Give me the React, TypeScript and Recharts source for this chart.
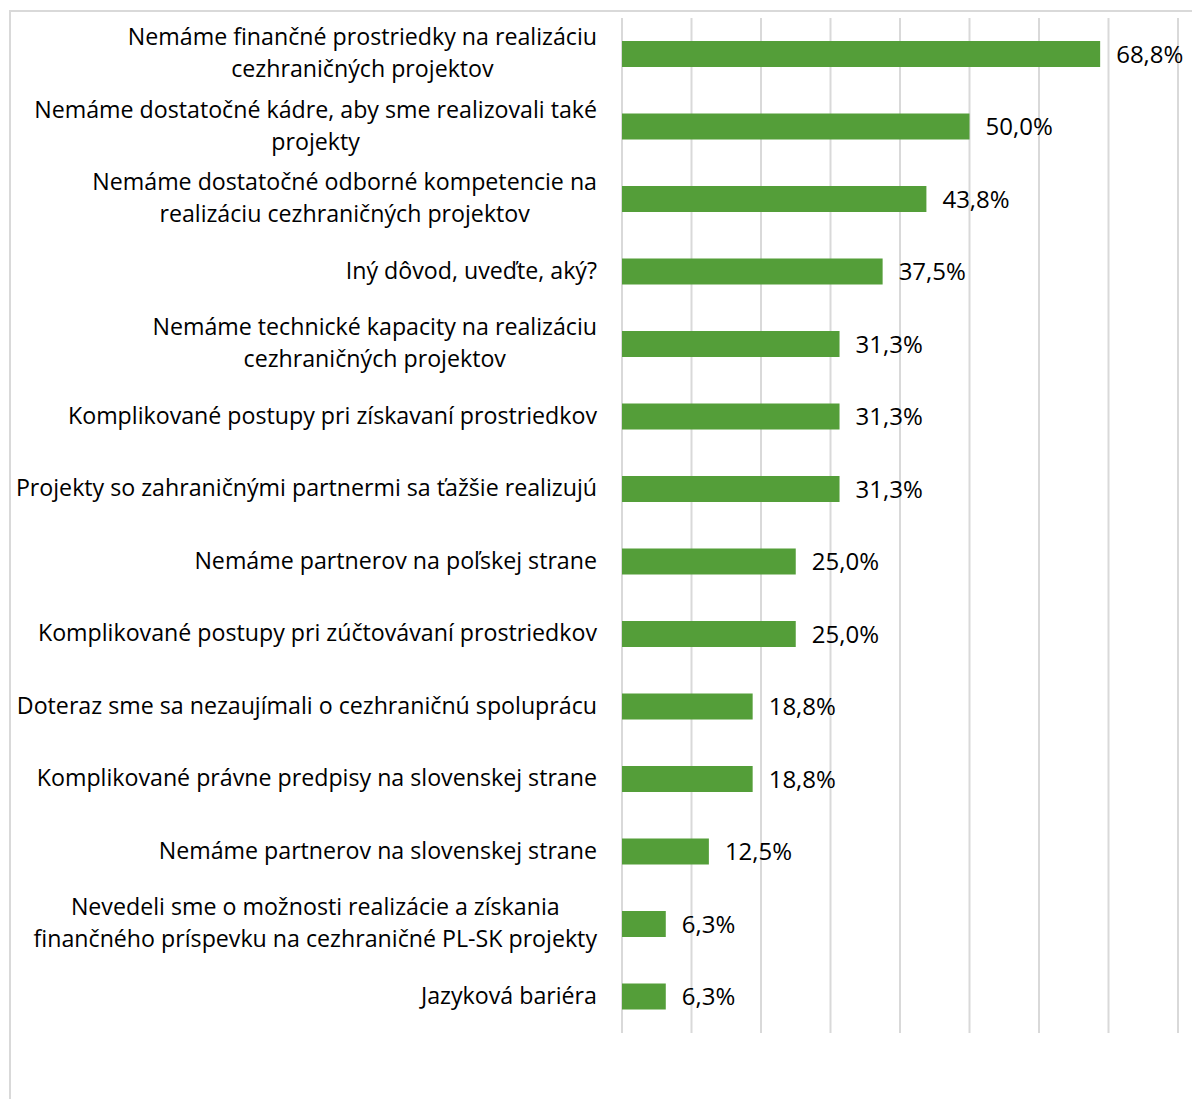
import React from "react";
import { BarChart, Bar, XAxis, YAxis, CartesianGrid, LabelList } from "recharts";

const categories = [
  "Nemáme finančné prostriedky na realizáciu\ncezhraničných projektov",
  "Nemáme dostatočné kádre, aby sme realizovali také\nprojekty",
  "Nemáme dostatočné odborné kompetencie na\nrealizáciu cezhraničných projektov",
  "Iný dôvod, uveďte, aký?",
  "Nemáme technické kapacity na realizáciu\ncezhraničných projektov",
  "Komplikované postupy pri získavaní prostriedkov",
  "Projekty so zahraničnými partnermi sa ťažšie realizujú",
  "Nemáme partnerov na poľskej strane",
  "Komplikované postupy pri zúčtovávaní prostriedkov",
  "Doteraz sme sa nezaujímali o cezhraničnú spoluprácu",
  "Komplikované právne predpisy na slovenskej strane",
  "Nemáme partnerov na slovenskej strane",
  "Nevedeli sme o možnosti realizácie a získania\nfinančného príspevku na cezhraničné PL-SK projekty",
  "Jazyková bariéra",
];

const values = [68.8, 50.0, 43.8, 37.5, 31.3, 31.3, 31.3, 25.0, 25.0, 18.8, 18.8, 12.5, 6.3, 6.3];

const xTicks = [0, 10, 20, 30, 40, 50, 60, 70, 80];

const data = categories.map((c, i) => ({ name: c, value: values[i] }));

const FONT = "Open Sans";
const FS = 23.2;
const VFS = 24;

let ctx: CanvasRenderingContext2D | null = null;
function measure(t: string) {
  if (!ctx) {
    const c = document.createElement("canvas");
    ctx = c.getContext("2d");
  }
  if (!ctx) return t.length * FS * 0.5;
  ctx.font = `${FS}px "${FONT}"`;
  return ctx.measureText(t).width;
}

const Tick = (props: any) => {
  const { x, y, payload } = props;
  const lines = String(payload.value).split("\n");
  const maxW = Math.max(...lines.map(measure));
  const cx = x - 17 - maxW / 2;
  const lh = 32;
  const start = y - 2 - ((lines.length - 1) * lh) / 2;
  return (
    <g>
      {lines.map((l, i) => (
        <text
          key={i}
          x={cx}
          y={start + i * lh}
          textAnchor="middle"
          dominantBaseline="central"
          fontFamily={FONT}
          fontSize={FS}
          fill="#000"
        >
          {l}
        </text>
      ))}
    </g>
  );
};

const EmptyTick = () => <g />;

const fmt = (v: any) => Number(v).toFixed(1).replace(".", ",") + "%";

export default function App() {
  return (
    <div style={{ position: "relative", width: 1192, height: 1091, overflow: "hidden" }}>
      <div
        style={{
          position: "absolute",
          left: 1,
          top: 2,
          width: 2000,
          height: 2000,
          borderLeft: "2px solid #d9d9d9",
          borderTop: "2px solid #d9d9d9",
        }}
      />
      <div style={{ position: "absolute", left: 0, top: 0 }}>
        <BarChart
          width={1192}
          height={1091}
          data={data}
          layout="vertical"
          margin={{ top: 10, right: 22, bottom: 66, left: 0 }}
          barSize={26}
        >
          <CartesianGrid horizontal={false} stroke="#d9d9d9" strokeWidth={2} />
          <XAxis
            type="number"
            domain={[0, 80]}
            ticks={xTicks}
            tick={EmptyTick}
            axisLine={false}
            tickLine={false}
            height={0}
          />
          <YAxis
            type="category"
            dataKey="name"
            width={614}
            axisLine={false}
            tickLine={false}
            tick={<Tick />}
            interval={0}
          />
          <Bar dataKey="value" fill="#549e39" isAnimationActive={false}>
            <LabelList
              dataKey="value"
              position="right"
              offset={16}
              formatter={fmt}
              style={{ fontFamily: FONT, fontSize: VFS, fill: "#000" }}
            />
          </Bar>
        </BarChart>
      </div>
    </div>
  );
}
